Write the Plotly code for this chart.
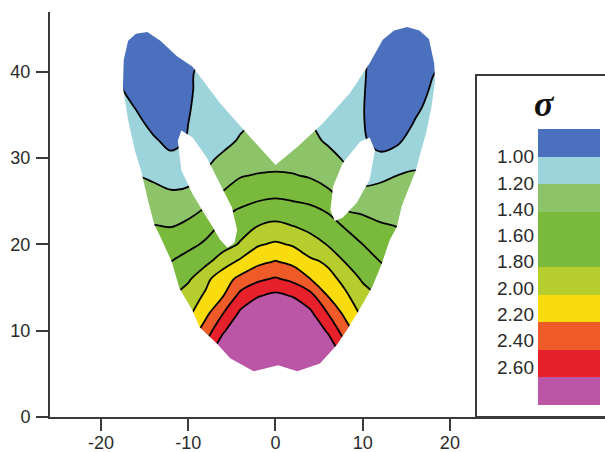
import plotly.graph_objects as go

# ---------------- data ----------------
x_grid = [-20, -18, -16, -14, -12, -10, -8, -6, -4, -2, 0, 2, 4, 6, 8, 10, 12, 14, 16, 18, 20]
z_grid = [2, 4, 6, 8, 10, 12, 14, 16, 18, 20, 22, 24, 26, 28, 30, 32, 34, 36, 38, 40, 42, 44, 46]

sigma_rows = [
    [1.40, 1.50, 1.70, 1.95, 2.25, 2.55, 2.90, 3.15, 3.35, 3.50, 3.55, 3.50, 3.35, 3.15, 2.90, 2.55, 2.25, 1.95, 1.70, 1.50, 1.40],
    [1.35, 1.45, 1.60, 1.85, 2.15, 2.45, 2.80, 3.05, 3.25, 3.40, 3.45, 3.40, 3.25, 3.05, 2.80, 2.45, 2.15, 1.85, 1.60, 1.45, 1.35],
    [1.30, 1.40, 1.55, 1.75, 2.00, 2.30, 2.63, 2.90, 3.10, 3.25, 3.30, 3.25, 3.10, 2.90, 2.63, 2.30, 2.00, 1.75, 1.55, 1.40, 1.30],
    [1.28, 1.38, 1.50, 1.68, 1.90, 2.20, 2.45, 2.75, 2.95, 3.10, 3.15, 3.10, 2.95, 2.75, 2.45, 2.20, 1.90, 1.68, 1.50, 1.38, 1.28],
    [1.28, 1.38, 1.50, 1.64, 1.83, 2.05, 2.30, 2.57, 2.80, 2.95, 3.00, 2.95, 2.80, 2.57, 2.30, 2.05, 1.83, 1.64, 1.50, 1.38, 1.28],
    [1.32, 1.42, 1.53, 1.66, 1.80, 1.96, 2.15, 2.40, 2.64, 2.78, 2.85, 2.78, 2.64, 2.40, 2.15, 1.96, 1.80, 1.66, 1.53, 1.42, 1.32],
    [1.37, 1.46, 1.56, 1.66, 1.77, 1.90, 2.03, 2.20, 2.47, 2.59, 2.65, 2.59, 2.47, 2.20, 2.03, 1.90, 1.77, 1.66, 1.56, 1.46, 1.37],
    [1.40, 1.47, 1.55, 1.61, 1.68, 1.77, 1.95, 2.12, 2.25, 2.36, 2.42, 2.35, 2.20, 2.06, 1.95, 1.77, 1.68, 1.61, 1.55, 1.47, 1.40],
    [1.32, 1.38, 1.45, 1.52, 1.60, 1.68, 1.75, 1.91, 2.04, 2.15, 2.21, 2.15, 2.04, 1.97, 1.79, 1.68, 1.60, 1.52, 1.45, 1.38, 1.32],
    [1.30, 1.36, 1.42, 1.46, 1.50, 1.55, 1.63, 1.72, 1.82, 1.98, 2.03, 1.98, 1.87, 1.79, 1.70, 1.60, 1.53, 1.47, 1.42, 1.36, 1.30],
    [1.25, 1.30, 1.38, 1.41, 1.40, 1.46, 1.53, 1.64, 1.73, 1.81, 1.85, 1.81, 1.76, 1.68, 1.59, 1.50, 1.42, 1.40, 1.35, 1.30, 1.25],
    [1.20, 1.24, 1.28, 1.33, 1.31, 1.33, 1.42, 1.55, 1.62, 1.67, 1.70, 1.67, 1.64, 1.58, 1.40, 1.36, 1.35, 1.33, 1.28, 1.24, 1.20],
    [1.20, 1.22, 1.24, 1.23, 1.21, 1.22, 1.32, 1.41, 1.47, 1.53, 1.55, 1.53, 1.50, 1.43, 1.33, 1.22, 1.24, 1.26, 1.26, 1.24, 1.20],
    [1.18, 1.20, 1.20, 1.18, 1.15, 1.16, 1.22, 1.30, 1.39, 1.41, 1.42, 1.41, 1.38, 1.32, 1.24, 1.17, 1.17, 1.20, 1.22, 1.20, 1.18],
    [1.18, 1.17, 1.13, 1.08, 1.03, 1.08, 1.16, 1.23, 1.28, 1.32, 1.33, 1.32, 1.30, 1.25, 1.18, 1.08, 1.03, 1.06, 1.15, 1.17, 1.18],
    [1.16, 1.12, 1.07, 1.02, 0.96, 1.01, 1.08, 1.15, 1.22, 1.26, 1.28, 1.26, 1.24, 1.18, 1.10, 1.02, 0.95, 0.98, 1.06, 1.12, 1.16],
    [1.12, 1.08, 1.04, 0.96, 0.93, 1.00, 1.04, 1.10, 1.17, 1.22, 1.24, 1.22, 1.20, 1.14, 1.07, 1.01, 0.92, 0.93, 1.01, 1.06, 1.12],
    [1.10, 1.06, 0.99, 0.90, 0.91, 0.99, 1.05, 1.07, 1.13, 1.18, 1.20, 1.18, 1.16, 1.10, 1.05, 1.01, 0.90, 0.90, 0.97, 1.04, 1.10],
    [1.08, 1.02, 0.93, 0.85, 0.88, 0.98, 1.05, 1.06, 1.10, 1.15, 1.18, 1.15, 1.13, 1.08, 1.04, 1.02, 0.88, 0.85, 0.92, 1.02, 1.08],
    [1.05, 0.97, 0.88, 0.82, 0.87, 0.99, 1.02, 1.04, 1.08, 1.13, 1.16, 1.13, 1.11, 1.07, 1.05, 1.03, 0.88, 0.83, 0.88, 0.99, 1.05],
    [1.02, 0.93, 0.85, 0.82, 0.87, 0.97, 1.00, 1.03, 1.07, 1.11, 1.14, 1.11, 1.10, 1.06, 1.04, 1.02, 0.92, 0.84, 0.86, 0.94, 1.02],
    [1.00, 0.92, 0.86, 0.86, 0.92, 0.98, 1.01, 1.04, 1.07, 1.10, 1.12, 1.10, 1.07, 1.04, 1.01, 0.98, 0.92, 0.86, 0.86, 0.92, 1.00],
    [1.00, 0.94, 0.90, 0.90, 0.92, 0.96, 0.99, 1.02, 1.05, 1.08, 1.10, 1.08, 1.05, 1.02, 0.99, 0.96, 0.92, 0.90, 0.90, 0.94, 1.00],
]

# outline of the attractor (x, z), counter-clockwise from bottom centre
outline_x = [0.3, -2.5, -5.2, -6.7, -8.7, -9.5, -11.0, -11.9, -13.2, -13.9, -14.6, -15.4, -16.1, -16.9,
             -17.5, -17.4, -16.9, -16.0, -14.7, -13.2, -11.3, -9.5, -6.4, -3.4, 0.0,
             2.5, 5.4, 8.5, 10.8, 12.3, 13.6, 15.1, 16.5, 17.6, 18.2, 18.3, 17.9, 17.3, 16.6, 16.1,
             14.5, 13.9, 13.1, 12.2, 11.1, 9.6, 8.2, 7.0, 5.1, 2.5]
outline_z = [6.0, 5.3, 6.8, 8.5, 10.4, 12.3, 14.9, 18.0, 20.9, 22.3, 25.0, 28.5, 30.8, 34.4,
             38.2, 41.4, 43.6, 44.4, 44.6, 43.6, 41.8, 40.6, 36.4, 33.0, 29.2,
             31.3, 34.0, 37.5, 41.0, 43.7, 44.8, 45.2, 44.8, 43.8, 41.0, 39.0, 36.0, 33.0, 30.5, 28.6,
             24.5, 22.0, 20.5, 17.8, 15.1, 12.4, 10.1, 8.3, 6.2, 5.3]

hole_left_x = [-10.8, -9.5, -7.9, -6.4, -5.0, -4.4, -4.7, -5.5, -6.4, -7.3, -8.0, -9.5, -10.8, -11.2]
hole_left_z = [33.2, 32.4, 30.1, 27.1, 24.3, 21.7, 20.2, 19.6, 20.6, 22.2, 23.3, 25.8, 28.6, 32.0]
hole_right_x = [10.8, 11.4, 10.8, 9.3, 7.7, 6.8, 6.3, 6.6, 7.7, 9.7]
hole_right_z = [32.4, 30.9, 27.5, 24.8, 23.1, 22.7, 24.0, 26.7, 29.4, 31.9]

levels = [1.00, 1.20, 1.40, 1.60, 1.80, 2.00, 2.20, 2.40, 2.60]
band_colors = ["#4a70be", "#9dd4dc", "#8dc46a", "#79b93c", "#79b93c",
               "#b6cd2e", "#f8dc0e", "#ee5a28", "#e6212b", "#bb55a6"]
x_ticks = [-20, -10, 0, 10, 20]
x_ticktext = ["-20", "-10", "0", "10", "20"]
y_ticks = [0, 10, 20, 30, 40]
legend_title = "σ"

# ---------------- figure ----------------
n = len(band_colors)
cscale = []
for i, c in enumerate(band_colors):
    cscale.append([i / n, c])
    cscale.append([(i + 1) / n, c])

fig = go.Figure()
fig.add_trace(go.Contour(
    x=x_grid, y=z_grid, z=sigma_rows,
    autocontour=False,
    contours=dict(start=levels[0], end=levels[-1], size=0.2, coloring="fill"),
    colorscale=cscale, showscale=False,
    line=dict(color="black", width=1.8, smoothing=1),
    hoverinfo="skip",
))

# legend colour strip
fig.add_trace(go.Heatmap(
    z=[[i] for i in range(n)], x=[0], y=list(range(n)),
    colorscale=cscale, zmin=-0.5, zmax=n - 0.5, showscale=False,
    xaxis="x2", yaxis="y2", hoverinfo="skip",
))

# white mask outside the attractor and inside the two holes (even-odd)
def poly(xs, zs):
    s = "M %g,%g " % (xs[0], zs[0])
    s += " ".join("L %g,%g" % (a, b) for a, b in zip(xs[1:], zs[1:]))
    return s + " Z "

mask_path = poly([-21, 21, 21, -21], [1.0, 1.0, 48, 48]) + poly(outline_x, outline_z) \
    + poly(hole_left_x, hole_left_z) + poly(hole_right_x, hole_right_z)

W, H = 605, 452
L, R, T, B = 50, 0, 12, 35
pw, ph = W - L - R, H - T - B

def px2paper_x(px):
    return (px - L) / pw

def py2paper_y(py):
    return (H - B - py) / ph

tick_font = dict(family="Liberation Sans, Arial, sans-serif", size=18, color="#2a2a2a")
legend_font = dict(family="Liberation Sans, Arial, sans-serif", size=19, color="#2a2a2a")
label_step = 0.9525
legend_tick_pos = [0.5 + i * label_step for i in range(len(levels))]

fig.update_layout(
    width=W, height=H,
    margin=dict(l=L, r=R, t=T, b=B),
    paper_bgcolor="white", plot_bgcolor="white",
    showlegend=False,
    font=tick_font,
    xaxis=dict(range=[-25.86, 37.79], tickvals=x_ticks, ticktext=x_ticktext,
               showline=True, linecolor="#3a3a3a", linewidth=2,
               ticks="outside", ticklen=12, tickwidth=2, tickcolor="#3a3a3a",
               showgrid=False, zeroline=False, ticklabelstandoff=-4,
               automargin=False, tickfont=tick_font),
    yaxis=dict(range=[0, 46.93], tickvals=y_ticks,
               showline=True, linecolor="#3a3a3a", linewidth=2,
               ticks="outside", ticklen=12, tickwidth=2, tickcolor="#3a3a3a",
               showgrid=False, zeroline=False, ticklabelstandoff=2,
               automargin=False, tickfont=tick_font),
    xaxis2=dict(domain=[px2paper_x(538), px2paper_x(600)], anchor="y2", visible=False,
                range=[-0.5, 0.5]),
    yaxis2=dict(domain=[py2paper_y(405), py2paper_y(129)], anchor="x2",
                range=[n - 0.5, -0.5], tickvals=legend_tick_pos,
                ticktext=["%.2f" % v for v in levels], ticks="", showline=False,
                showgrid=False, zeroline=False, ticklabelstandoff=3,
                automargin=False, tickfont=legend_font),
    shapes=[
        dict(type="path", xref="x", yref="y", path=mask_path, fillcolor="white",
             fillrule="evenodd", line=dict(width=0), layer="above"),
        dict(type="rect", xref="paper", yref="paper",
             x0=px2paper_x(476), x1=1.05, y0=0, y1=py2paper_y(75),
             fillcolor="white", line=dict(color="#3a3a3a", width=2), layer="below"),
    ],
    annotations=[
        dict(text=legend_title, xref="paper", yref="paper",
             x=px2paper_x(557), y=py2paper_y(82), showarrow=False,
             font=dict(family="Liberation Serif, serif", size=36, color="#111",
                       weight="bold", style="italic")),
    ],
)

fig.write_html("out.html")
